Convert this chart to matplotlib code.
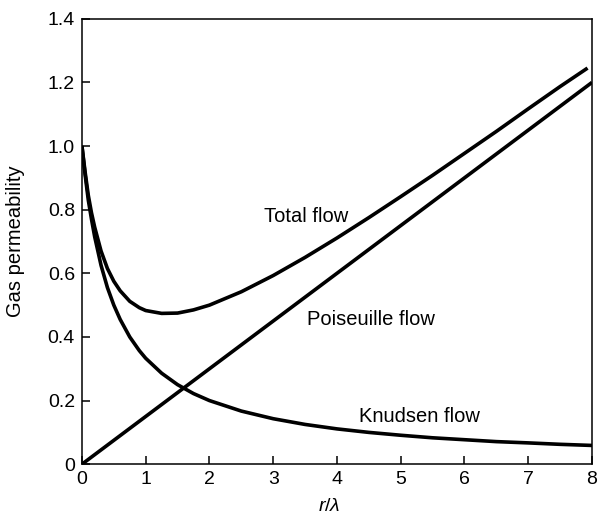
import matplotlib
matplotlib.use("Agg")
import matplotlib.pyplot as plt

plt.rcParams['font.family'] = ['Liberation Sans', 'DejaVu Sans']
plt.rcParams['mathtext.fontset'] = 'custom'
plt.rcParams['mathtext.it'] = 'Liberation Sans:italic'
plt.rcParams['mathtext.rm'] = 'Liberation Sans'

# r/lambda sample positions
x_knudsen = [0, 0.05, 0.1, 0.15, 0.2, 0.3, 0.4, 0.5, 0.6, 0.75, 0.9, 1.0, 1.25, 1.5,
             1.75, 2.0, 2.5, 3.0, 3.5, 4.0, 4.5, 5.0, 5.5, 6.0, 6.5, 7.0, 7.5, 8.0]
knudsen = [1.0, 0.91, 0.83, 0.77, 0.715, 0.625, 0.555, 0.50, 0.455, 0.40, 0.357, 0.333,
           0.286, 0.25, 0.222, 0.20, 0.167, 0.143, 0.125, 0.111, 0.10, 0.091, 0.083,
           0.077, 0.071, 0.067, 0.0625, 0.059]

x_total = [0, 0.05, 0.1, 0.15, 0.2, 0.3, 0.4, 0.5, 0.6, 0.75, 0.9, 1.0, 1.25, 1.5,
           1.75, 2.0, 2.5, 3.0, 3.5, 4.0, 4.5, 5.0, 5.5, 6.0, 6.5, 7.0, 7.5, 7.93]
total = [1.0, 0.918, 0.845, 0.79, 0.745, 0.67, 0.615, 0.575, 0.545, 0.512, 0.492, 0.483,
         0.474, 0.475, 0.485, 0.50, 0.542, 0.593, 0.65, 0.711, 0.775, 0.841, 0.908,
         0.977, 1.046, 1.117, 1.187, 1.245]

x_poiseuille = [0, 8]
poiseuille = [0, 1.2]

x_ticks = [0, 1, 2, 3, 4, 5, 6, 7, 8]
y_ticks = [0, 0.2, 0.4, 0.6, 0.8, 1.0, 1.2, 1.4]
y_ticklabels = ['0', '0.2', '0.4', '0.6', '0.8', '1.0', '1.2', '1.4']

fig = plt.figure(figsize=(5.98, 5.21), dpi=100)
ax = fig.add_axes([0.137, 0.109, 0.853, 0.855])

lw = 2.6
ax.plot(x_knudsen, knudsen, color='black', lw=lw, solid_capstyle='butt')
ax.plot(x_total, total, color='black', lw=lw, solid_capstyle='butt')
ax.plot(x_poiseuille, poiseuille, color='black', lw=lw, solid_capstyle='butt')

ax.set_xlim(0, 8)
ax.set_ylim(0, 1.4)
ax.set_xticks(x_ticks)
ax.set_xticklabels([str(t) for t in x_ticks])
ax.set_yticks(y_ticks)
ax.set_yticklabels(y_ticklabels)
ax.tick_params(direction='in', length=6, width=1.1, labelsize=14, pad=5)
for s in ax.spines.values():
    s.set_linewidth(1.1)

ax.set_xlabel('$r$/$\\lambda$', fontsize=14, labelpad=3)
ax.xaxis.set_label_coords(0.485, -0.075)
ax.set_ylabel('Gas permeability', fontsize=14.5)
ax.yaxis.set_label_coords(-0.112, 0.5)

ax.text(3.52, 0.78, 'Total flow', fontsize=14.5, ha='center', va='center')
ax.text(4.54, 0.454, 'Poiseuille flow', fontsize=14.5, ha='center', va='center')
ax.text(5.3, 0.149, 'Knudsen flow', fontsize=14.5, ha='center', va='center')

fig.savefig('out.png', dpi=100)
